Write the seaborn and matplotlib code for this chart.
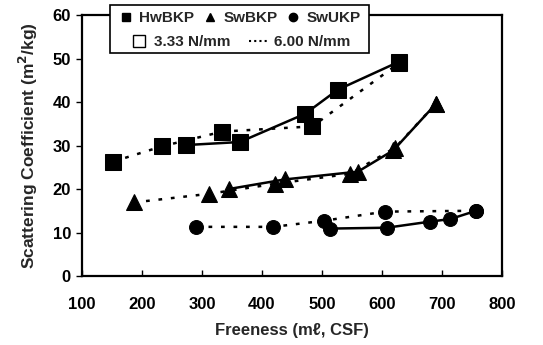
import matplotlib
matplotlib.use("Agg")
import matplotlib.pyplot as plt
import seaborn as sns
import pandas as pd
from matplotlib.lines import Line2D
from matplotlib.patches import Rectangle

sns.set_theme(style="white")
plt.rcParams['font.family'] = ['Liberation Sans', 'DejaVu Sans']
plt.rcParams['font.weight'] = 'bold'

# Data
hw_solid_x = [273, 363, 472, 526, 629]
hw_solid_y = [30.1, 30.8, 37.3, 42.8, 49.3]
hw_dash_x = [152, 233, 334, 484, 629]
hw_dash_y = [26.3, 29.8, 33.2, 34.4, 49.0]

sw_solid_x = [345, 438, 560, 619, 690]
sw_solid_y = [20.0, 22.2, 24.0, 28.9, 39.6]
sw_dash_x = [186, 312, 422, 547, 622, 690]
sw_dash_y = [16.9, 18.9, 21.2, 23.5, 29.5, 39.6]

su_solid_x = [513, 608, 680, 714, 757]
su_solid_y = [10.9, 11.1, 12.5, 13.1, 15.0]
su_dash_x = [290, 419, 503, 605, 757]
su_dash_y = [11.3, 11.3, 12.7, 14.8, 15.0]

x_ticks = [100, 200, 300, 400, 500, 600, 700, 800]
y_ticks = [0, 10, 20, 30, 40, 50, 60]

fig = plt.figure(figsize=(5.43, 3.45), dpi=100)
ax = fig.add_axes([0.151, 0.2, 0.7735, 0.7565])

dot_style = (0, (1.5, 3.5))
series = [
    (hw_dash_x, hw_dash_y, 's', dot_style, 11),
    (hw_solid_x, hw_solid_y, 's', '-', 11),
    (sw_dash_x, sw_dash_y, '^', dot_style, 11),
    (sw_solid_x, sw_solid_y, '^', '-', 11),
    (su_dash_x, su_dash_y, 'o', dot_style, 10),
    (su_solid_x, su_solid_y, 'o', '-', 10),
]
for xs, ys, mk, ls, ms in series:
    df = pd.DataFrame({'x': xs, 'y': ys})
    sns.lineplot(data=df, x='x', y='y', ax=ax, color='black', marker=mk,
                 markersize=ms, linewidth=1.8, linestyle=ls, sort=False,
                 markeredgecolor='black', markerfacecolor='black')

ax.set_xlim(100, 800)
ax.set_ylim(0, 60)
ax.set_xticks(x_ticks)
ax.set_yticks(y_ticks)
ax.tick_params(axis='x', direction='in', length=4, width=1, labelsize=12, pad=15, colors='black', bottom=True)
ax.tick_params(axis='y', direction='out', length=4, width=1, labelsize=12, pad=4, colors='black', left=True)
for lab in ax.get_xticklabels() + ax.get_yticklabels():
    lab.set_fontweight('bold')
for s in ax.spines.values():
    s.set_linewidth(1.6)
    s.set_color('black')

ax.set_xlabel('Freeness (mℓ, CSF)', fontsize=12, fontweight='bold', labelpad=8)
ax.set_ylabel('Scattering Coefficient (m$^2$/kg)', fontsize=12.5, fontweight='bold', labelpad=9)

# Legend box
rect = Rectangle((110/543, 1-53/345), 259/543, 48/345, transform=fig.transFigure,
                 facecolor='white', edgecolor='black', linewidth=1.2, zorder=5)
fig.patches.append(rect)

h1 = [Line2D([], [], color='black', marker='s', linestyle='none', markersize=6),
      Line2D([], [], color='black', marker='^', linestyle='none', markersize=6),
      Line2D([], [], color='black', marker='o', linestyle='none', markersize=6)]
leg1 = fig.legend(h1, ['HwBKP', 'SwBKP', 'SwUKP'], loc='center', ncol=3,
                  bbox_to_anchor=(240/543, 1-18/345), frameon=False,
                  handlelength=0.8, handletextpad=0.5, columnspacing=0.6,
                  prop={'size': 11, 'weight': 'bold'}, borderpad=0)
h2 = [Line2D([], [], color='black', marker='s', linestyle='none', markersize=9,
             markerfacecolor='white', markeredgewidth=1),
      Line2D([], [], color='black', linestyle=(0, (1, 1.5)), linewidth=1.5)]
leg2 = fig.legend(h2, ['3.33 N/mm', '6.00 N/mm'], loc='center', ncol=2,
                  bbox_to_anchor=(240/543, 1-42/345), frameon=False,
                  handlelength=1.2, handletextpad=0.4, columnspacing=1.2,
                  prop={'size': 11, 'weight': 'bold'}, borderpad=0)
for lg in (leg1, leg2):
    lg.set_zorder(6)

fig.savefig('out.png', dpi=100)
